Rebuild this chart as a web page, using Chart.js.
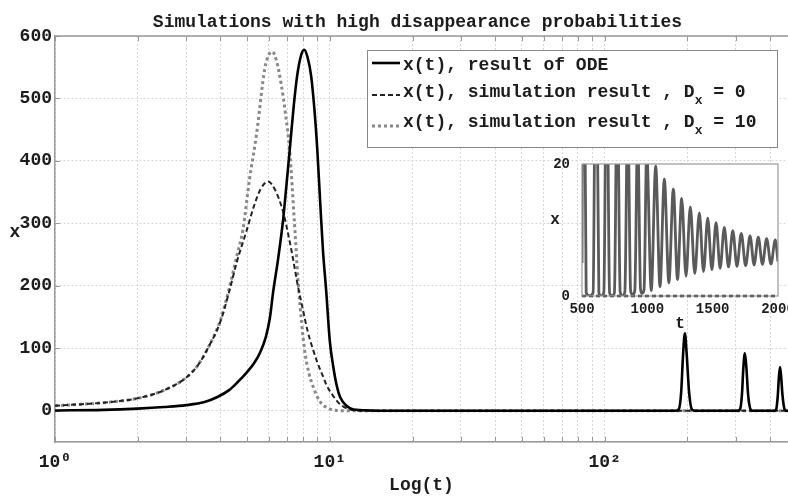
<!DOCTYPE html>
<html><head><meta charset="utf-8">
<script src="https://cdn.jsdelivr.net/npm/chart.js@4.4.1/dist/chart.umd.min.js"></script>
<style>
html,body{margin:0;padding:0;background:#fff;overflow:hidden;width:788px;height:496px;}
#wrap{position:relative;width:788px;height:496px;overflow:hidden;}
#main{position:absolute;left:0;top:0;}
#inset{position:absolute;left:540px;top:150px;}
</style></head><body>
<div id="wrap">
<canvas id="main" width="788" height="496"></canvas>
<canvas id="inset" width="260" height="190"></canvas>
</div>
<script>
// ---------- data ----------
const titleText = 'Simulations with high disappearance probabilities';
const xAxisTitle = 'Log(t)';
const yAxisTitle = 'x';
const xTickLabels = {0: '10\u2070', 1: '10\u00b9', 2: '10\u00b2'};
const legendText = ['x(t), result of ODE', 'x(t), simulation result , D_x = 0', 'x(t), simulation result , D_x = 10'];

// ODE solution
const odeT = [1, 1.5, 2, 2.5, 3, 3.5, 3.9, 4.3, 4.6, 5.0, 5.3, 5.56, 5.85, 6.05, 6.22, 6.47, 6.76, 6.95, 7.15, 7.4, 7.6, 7.85, 8.07, 8.3, 8.56, 8.8, 9.0, 9.25, 9.45, 9.71, 10.0, 10.3, 10.6, 10.9, 11.5, 12.2, 14, 20, 50, 100, 150, 180, 186, 190, 193, 196, 199, 203, 208, 214, 250, 305, 311, 316, 320, 324, 328, 333, 340, 346, 380, 415, 421, 427, 431, 435, 439, 444, 452, 458, 465];
const odeX = [0.5, 1.5, 3.5, 6, 9, 14, 22, 33, 45, 62, 76, 92, 118, 148, 190, 240, 305, 360, 418, 490, 535, 568, 578, 566, 535, 480, 420, 325, 255, 190, 112, 70, 40, 22, 8, 2, 0.5, 0, 0, 0, 0, 0, 2, 30, 90, 124, 90, 30, 2, 0, 0, 0, 2, 25, 70, 92, 70, 25, 2, 0, 0, 0, 2, 25, 55, 70, 55, 25, 2, 0, 0];

// simulation, Dx = 0
const d0T = [1, 1.5, 2, 2.5, 3.0, 3.3, 3.6, 4.0, 4.3, 4.6, 4.97, 5.3, 5.6, 5.96, 6.3, 6.76, 7.0, 7.3, 7.66, 8.0, 8.3, 8.66, 9.0, 9.45, 9.71, 10.2, 10.8, 11.5, 12.5, 20, 100, 465];
const d0X = [8, 13, 20, 33, 53, 72, 100, 143, 190, 240, 287, 328, 355, 367, 355, 319, 290, 250, 199, 160, 128, 100, 78, 55, 42, 26, 12, 4, 0.5, 0, 0, 0];

// simulation, Dx = 10
const d10T = [1, 1.5, 2, 2.5, 3.0, 3.3, 3.6, 4.0, 4.3, 4.6, 4.83, 5.1, 5.41, 5.8, 6.0, 6.18, 6.4, 6.66, 6.9, 7.15, 7.44, 7.66, 7.9, 8.11, 8.4, 8.69, 9.2, 10.0, 10.6, 12, 100, 465];
const d10X = [8, 13, 20, 33, 53, 72, 100, 145, 195, 250, 290, 370, 442, 548, 570, 575, 560, 522, 475, 415, 300, 210, 140, 95, 60, 39, 15, 3, 0.5, 0, 0, 0];

// inset: ODE oscillation, t = 500..2000
const insetT = [500, 510, 532, 558, 585, 607, 629, 648, 667, 689, 711, 730, 748, 770, 792, 810, 828, 850, 872, 888, 904, 926, 948, 960, 975, 995, 1030, 1064, 1097, 1130, 1165, 1199, 1231, 1263, 1296, 1329, 1363, 1398, 1430, 1462, 1494, 1526, 1557, 1589, 1621, 1654, 1686, 1719, 1752, 1786, 1817, 1849, 1881, 1913, 1946, 1979, 2000];
const insetX = [5, 58, 0.5, 0, 0.5, 48, 0.5, 0, 0.5, 40, 0.5, 0, 0.5, 34, 0.6, 0.05, 0.6, 29, 0.8, 0.2, 0.8, 25, 1.0, 0.4, 1.0, 22, 0.8, 19.7, 1.4, 17.7, 2.0, 16.2, 2.5, 14.8, 3.0, 13.5, 3.4, 12.6, 3.7, 11.8, 4.0, 11.1, 4.2, 10.4, 4.4, 9.9, 4.5, 9.5, 4.6, 9.1, 4.7, 8.9, 4.8, 8.7, 4.85, 8.5, 5.2];
// inset: simulation (zero)
const insetZeroT = [500, 2000];
const insetZeroX = [0, 0];
const insetXTicks = [500, 1000, 1500, 2000];
const insetYTicks = [0, 20];
const insetXTitle = 't';
const insetYTitle = 'x';

// ---------- helpers ----------
const FONT = "'Liberation Mono', 'Courier New', 'DejaVu Sans Mono', monospace";
const TXT = '#1c1c1c';
const toPts = (ts, xs) => ts.map((t, i) => ({x: t, y: xs[i]}));

const titlePlugin = {
  id: 'topTitle',
  afterDraw(chart) {
    const {ctx, chartArea: ca} = chart;
    ctx.save();
    ctx.font = 'bold 18px ' + FONT;
    ctx.fillStyle = TXT;
    ctx.textAlign = 'center';
    ctx.textBaseline = 'alphabetic';
    ctx.fillText(titleText, (ca.left + ca.right) / 2 - 4, 27);
    // horizontal y-axis title
    ctx.textBaseline = 'middle';
    ctx.fillText(yAxisTitle, ca.left - 40, (ca.top + ca.bottom) / 2 - 7);
    ctx.restore();
  }
};

const framePlugin = {
  id: 'frame',
  beforeDatasetsDraw(chart) {
    const {ctx, chartArea: ca, scales: {x, y}} = chart;
    ctx.save();
    ctx.strokeStyle = '#999';
    ctx.lineWidth = 1;
    ctx.beginPath();
    x.ticks.forEach(t => {
      const px = Math.round(x.getPixelForValue(t.value)) + 0.5;
      ctx.moveTo(px, ca.bottom); ctx.lineTo(px, ca.bottom - 5);
      ctx.moveTo(px, ca.top); ctx.lineTo(px, ca.top + 5);
    });
    y.ticks.forEach(t => {
      if (t.value < 0) return;
      const py = Math.round(y.getPixelForValue(t.value)) + 0.5;
      ctx.moveTo(ca.left, py); ctx.lineTo(ca.left + 5, py);
    });
    ctx.stroke();
    ctx.lineWidth = 1.5;
    ctx.beginPath(); ctx.moveTo(ca.left, ca.top); ctx.lineTo(ca.right, ca.top); ctx.stroke();
    ctx.restore();
  }
};

const legendPlugin = {
  id: 'legendBox',
  afterDatasetsDraw(chart) {
    const {ctx, chartArea: ca} = chart;
    const L = ca.right - 421, T = ca.top + 14, W = 410, H = 97;
    ctx.save();
    ctx.fillStyle = '#fff';
    ctx.fillRect(L, T, W, H);
    ctx.strokeStyle = '#888'; ctx.lineWidth = 1;
    ctx.strokeRect(L + 0.5, T + 0.5, W, H);
    const sampleY = [13, 45, 76];
    const textY = [15, 42.5, 72.5];
    chart.data.datasets.forEach((ds, i) => {
      ctx.save();
      ctx.strokeStyle = ds.borderColor;
      ctx.lineWidth = ds.borderWidth;
      ctx.setLineDash(ds.borderDash || []);
      ctx.beginPath();
      ctx.moveTo(L + 5, T + sampleY[i]); ctx.lineTo(L + 33, T + sampleY[i]);
      ctx.stroke();
      ctx.restore();
      const parts = legendText[i].split('_x');
      let tx = L + 36;
      const ty = T + textY[i];
      ctx.fillStyle = TXT;
      ctx.textBaseline = 'middle';
      ctx.textAlign = 'left';
      ctx.font = 'bold 18px ' + FONT;
      ctx.fillText(parts[0], tx, ty);
      tx += ctx.measureText(parts[0]).width;
      if (parts.length > 1) {
        ctx.font = 'bold 13px ' + FONT;
        ctx.fillText('x', tx, ty + 8);
        tx += ctx.measureText('x').width;
        ctx.font = 'bold 18px ' + FONT;
        ctx.fillText(parts[1], tx, ty);
      }
    });
    ctx.restore();
  }
};

// ---------- main chart ----------
new Chart(document.getElementById('main'), {
  type: 'line',
  data: {
    datasets: [
      {label: legendText[0], data: toPts(odeT, odeX), borderColor: '#000', borderWidth: 2.6, borderDash: [], pointRadius: 0, cubicInterpolationMode: 'monotone', fill: false},
      {label: legendText[1], data: toPts(d0T, d0X), borderColor: '#222', borderWidth: 2, borderDash: [5, 3], pointRadius: 0, cubicInterpolationMode: 'monotone', fill: false},
      {label: legendText[2], data: toPts(d10T, d10X), borderColor: '#888', borderWidth: 3, borderDash: [3, 3], pointRadius: 0, cubicInterpolationMode: 'monotone', fill: false}
    ]
  },
  options: {
    responsive: false,
    animation: false,
    layout: {padding: {top: 36, right: 0, left: 0, bottom: 0}},
    plugins: {legend: {display: false}, title: {display: false}, tooltip: {enabled: false}},
    scales: {
      x: {
        type: 'logarithmic', min: 1, max: 465,
        afterBuildTicks(scale) {
          scale.ticks = scale.ticks.filter(t => {
            const m = t.value / Math.pow(10, Math.floor(Math.log10(t.value) + 1e-9));
            return Math.abs(m - Math.round(m)) < 1e-6;
          });
        },
        afterFit(scale) { scale.height = 54; },
        grid: {color: '#d6d6d6', lineWidth: 1, drawTicks: false},
        border: {display: true, color: '#999', width: 1.5, dash: [2, 2]},
        ticks: {
          autoSkip: false, maxRotation: 0, padding: 10, color: TXT,
          font: {family: FONT, size: 18, weight: 'bold'},
          callback(v) {
            const l = Math.log10(v);
            const r = Math.round(l);
            return Math.abs(l - r) < 1e-9 && xTickLabels[r] !== undefined ? xTickLabels[r] : '';
          }
        },
        title: {display: true, text: xAxisTitle, color: TXT, font: {family: FONT, size: 18, weight: 'bold'}, padding: {top: 0, bottom: 0}}
      },
      y: {
        type: 'linear', min: -50, max: 600,
        afterFit(scale) { scale.width = 55; },
        grid: {color: '#d6d6d6', lineWidth: 1, drawTicks: false},
        border: {display: true, color: '#999', width: 1.5, dash: [2, 2]},
        ticks: {
          stepSize: 100, padding: 3, color: TXT,
          font: {family: FONT, size: 18, weight: 'bold'},
          callback(v) { return v < 0 ? '' : String(v); }
        },
        title: {display: false}
      }
    }
  },
  plugins: [framePlugin, legendPlugin, titlePlugin]
});

// ---------- inset chart ----------
const insetBg = {
  id: 'insetBg',
  beforeDatasetsDraw(chart) {
    const {ctx, chartArea: ca} = chart;
    ctx.save();
    ctx.fillStyle = '#fff';
    ctx.fillRect(ca.left, ca.top, ca.right - ca.left, ca.bottom - ca.top);
    ctx.restore();
  },
  afterDatasetsDraw(chart) {
    const {ctx, chartArea: ca} = chart;
    ctx.save();
    ctx.strokeStyle = '#999'; ctx.lineWidth = 1.2;
    ctx.strokeRect(ca.left, ca.top, ca.right - ca.left, ca.bottom - ca.top);
    ctx.fillStyle = TXT;
    ctx.font = 'bold 16px ' + FONT;
    ctx.textAlign = 'center';
    ctx.textBaseline = 'middle';
    ctx.fillText(insetYTitle, ca.left - 27, (ca.top + ca.bottom) / 2 - 10);
    ctx.restore();
  }
};

new Chart(document.getElementById('inset'), {
  type: 'line',
  data: {
    datasets: [
      {data: toPts(insetT, insetX), borderColor: '#5a5a5a', borderWidth: 2.8, pointRadius: 0, cubicInterpolationMode: 'monotone', fill: false},
      {data: toPts(insetZeroT, insetZeroX), borderColor: '#111', borderWidth: 2.6, borderDash: [4, 3], pointRadius: 0, fill: false, clip: 5}
    ]
  },
  options: {
    responsive: false,
    animation: false,
    layout: {padding: {top: 14, right: 22, left: 0, bottom: 0}},
    plugins: {legend: {display: false}, title: {display: false}, tooltip: {enabled: false}},
    scales: {
      x: {
        type: 'linear', min: 500, max: 2000,
        afterBuildTicks(scale) { scale.ticks = insetXTicks.map(v => ({value: v})); },
        afterFit(scale) { scale.height = 44; },
        grid: {display: false},
        border: {display: false},
        ticks: {autoSkip: false, maxRotation: 0, padding: -3, color: TXT, font: {family: FONT, size: 14, weight: 'bold'},
                callback(v) { return String(v); }},
        title: {display: true, text: insetXTitle, color: TXT, font: {family: FONT, size: 16, weight: 'bold'}, padding: {top: 0, bottom: 6}}
      },
      y: {
        type: 'linear', min: 0, max: 20,
        afterBuildTicks(scale) { scale.ticks = insetYTicks.map(v => ({value: v})); },
        afterFit(scale) { scale.width = 42; },
        grid: {display: false},
        border: {display: false},
        ticks: {padding: 4, color: TXT, font: {family: FONT, size: 14, weight: 'bold'}, callback(v) { return String(v); }},
        title: {display: false}
      }
    }
  },
  plugins: [insetBg]
});
</script>
</body></html>
